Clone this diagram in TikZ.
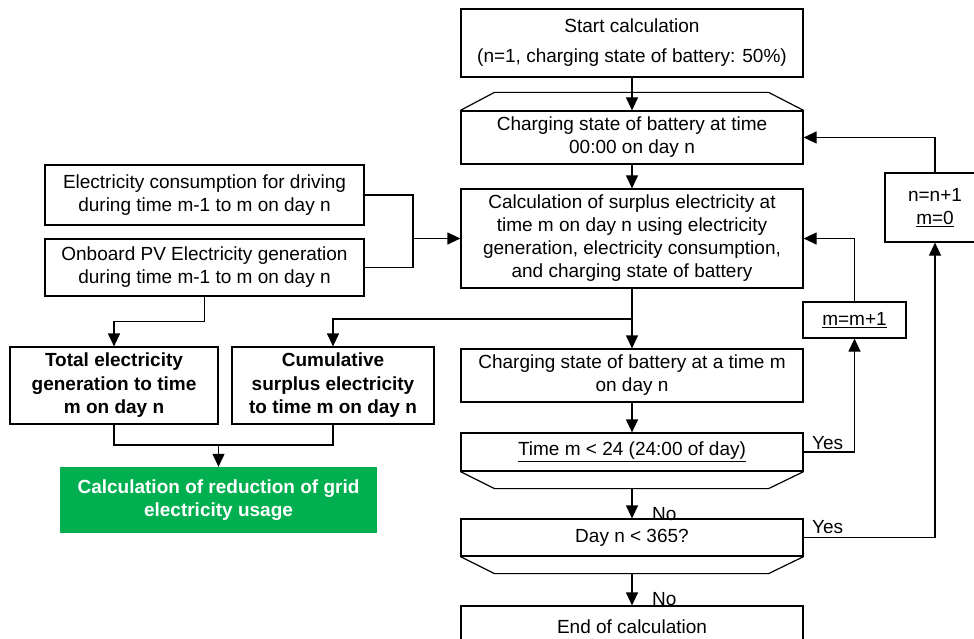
\documentclass[tikz,border=0pt]{standalone}
\usepackage{fontspec}
\setmainfont{Liberation Sans}
\usetikzlibrary{arrows.meta,calc}
\definecolor{calcgreen}{RGB}{0,176,80}
\begin{document}
\begin{tikzpicture}[x=1pt,y=-1pt,
  font=\fontsize{19pt}{23pt}\selectfont,
  bx/.style={draw, line width=1.2pt, align=center, inner sep=0pt},
  arr/.style={line width=1.2pt, -{Triangle[length=13pt,width=12pt]}},
  ln/.style={line width=1.2pt},
  lbl/.style={inner sep=0pt}]
\useasboundingbox (0,0) rectangle (974,639);
\clip (0,0) rectangle (974,639);

% right column
\node[bx, minimum width=342pt, minimum height=68pt] (start) at (632,43)
  {Start calculation\\[7pt](n=1, charging state of battery: 50\%)};
\node[bx, minimum width=342pt, minimum height=53pt] (cs0) at (632,137.5)
  {Charging state of battery at time\\00:00 on day n};
\node[bx, minimum width=342pt, minimum height=99pt] (calc) at (632,238.5)
  {Calculation of surplus electricity at\\time m on day n using electricity\\generation, electricity consumption,\\and charging state of battery};
\node[bx, minimum width=342pt, minimum height=53pt] (cm) at (632,375.5)
  {Charging state of battery at a time m\\on day n};
\node[bx, minimum width=342pt, minimum height=38pt] (tm) at (632,452)
  {\underline{Time m < 24 (24:00 of day)}};
\node[bx, minimum width=342pt, minimum height=37pt] (day) at (632,537.5)
  {Day n < 365?};
\node[bx, minimum width=342pt, minimum height=42pt] (end) at (632,627)
  {End of calculation};

% loop shapes
\draw[ln] (cs0.north west) -- ++(34,-18) -- ($(cs0.north east)+(-35,-18)$) -- (cs0.north east);
\draw[ln] (tm.south west) -- ++(34,17) -- ($(tm.south east)+(-35,17)$) -- (tm.south east);
\draw[ln] (day.south west) -- ++(34,17) -- ($(day.south east)+(-35,17)$) -- (day.south east);
\coordinate (tmb) at ($(tm.south)+(0,17)$);
\coordinate (dayb) at ($(day.south)+(0,17)$);

% counters
\node[bx, minimum width=103pt, minimum height=36pt] (mm) at (854.5,320) {\underline{m=m+1}};
\node[bx, minimum width=100pt, minimum height=69pt] (nn) at (935,207.5) {n=n+1\\\underline{m=0}};

% left side
\node[bx, minimum width=319pt, minimum height=60pt] (cons) at (204.5,195)
  {Electricity consumption for driving\\during time m-1 to m on day n};
\node[bx, minimum width=319pt, minimum height=57pt] (pv) at (204.5,267.5)
  {Onboard PV Electricity generation\\during time m-1 to m on day n};
\node[bx, minimum width=208pt, minimum height=77pt, font=\fontsize{19pt}{23.5pt}\selectfont\bfseries] (total) at (114,385.5)
  {Total electricity\\generation to time\\m on day n};
\node[bx, minimum width=202pt, minimum height=77pt, font=\fontsize{19pt}{23.5pt}\selectfont\bfseries] (cum) at (333,385.5)
  {Cumulative\\surplus electricity\\to time m on day n};
\node[fill=calcgreen, text=white, align=center, inner sep=0pt, minimum width=317pt, minimum height=66pt, font=\fontsize{19pt}{23.5pt}\selectfont\bfseries] (green) at (218.5,500)
  {Calculation of reduction of grid\\electricity usage};

% connectors right column
\draw[arr] (start.south) -- (cs0.north);
\draw[arr] (cs0.south) -- (calc.north);
\coordinate (j2) at (632,319);
\draw[arr] (calc.south) -- (cm.north);
\draw[arr] (cm.south) -- (tm.north);
\draw[arr] (tmb) -- (day.north);
\draw[arr] (dayb) -- (end.north);
\node[lbl, anchor=base west] (no1) at (652,520) {No};
\node[lbl, anchor=base west] (no2) at (652,605) {No};

% loops back
\draw[arr] (tm.east) -| (mm.south);
\node[lbl, anchor=base west] (yes1) at (812,449) {Yes};
\draw[arr] (mm.north) |- (calc.east);
\draw[arr] (day.east) -| (nn.south);
\node[lbl, anchor=base west] (yes2) at (812,533) {Yes};
\draw[arr] (nn.north) |- (cs0.east);

% left connectors
\coordinate (j1) at (413,238.5);
\draw[ln] (cons.east) -| (j1);
\draw[ln] (pv.east) -| (j1);
\draw[arr] (j1) -- (calc.west);
\draw[arr] (pv.south) -- ($(pv.south)+(0,25)$) -| (total.north);
\draw[arr] (j2) -| (cum.north);
\coordinate (j3) at (218.5,445);
\draw[ln] (total.south) |- (j3);
\draw[ln] (cum.south) |- (j3);
\draw[arr] (j3) -- (green.north);
\end{tikzpicture}
\end{document}
